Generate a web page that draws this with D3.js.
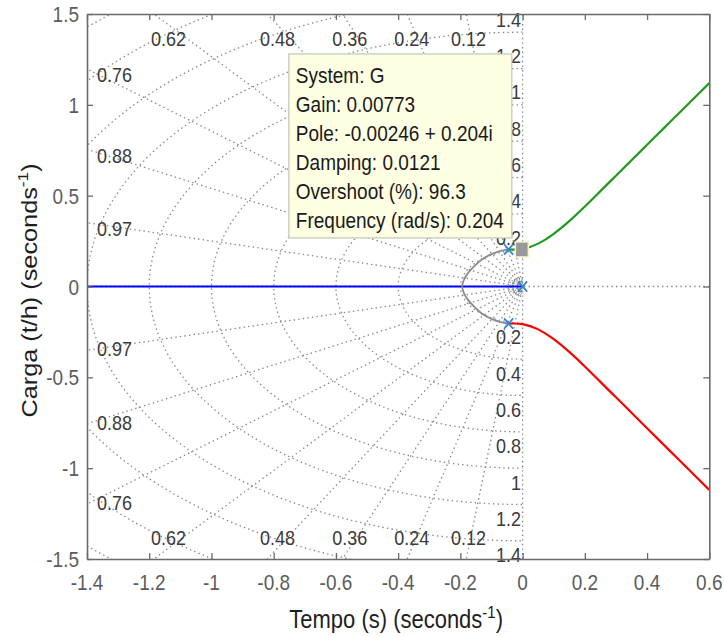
<!DOCTYPE html>
<html><head><meta charset="utf-8">
<script src="https://cdn.jsdelivr.net/npm/d3@7"></script>
<style>body{margin:0;background:#fff} text{font-family:"Liberation Sans",Arial,Helvetica,sans-serif}</style>
</head><body><svg id="c" width="724" height="637"></svg>
<script>
// ---------- data ----------
const xDomain = [-1.4, 0.6];
const yDomain = [-1.5, 1.5];
const xTicks = [-1.4, -1.2, -1, -0.8, -0.6, -0.4, -0.2, 0, 0.2, 0.4, 0.6];
const yTicks = [-1.5, -1, -0.5, 0, 0.5, 1, 1.5];
const dampingValues = [0.12, 0.24, 0.36, 0.48, 0.62, 0.76, 0.88, 0.97];
const wnValues = [0.2, 0.4, 0.6, 0.8, 1, 1.2, 1.4, 1.6, 1.8, 2.0];
const wnLabels = [0.2, 0.4, 0.6, 0.8, 1, 1.2, 1.4];
const wnSmall = [0.014, 0.022, 0.03, 0.038, 0.046];
const realLocusX = [-1.4, 0];
const branchX = [-0.045, 0, 0.05, 0.1, 0.15, 0.2, 0.25, 0.3, 0.35, 0.4, 0.45, 0.5, 0.55, 0.6];
const branchY = [0.204, 0.207, 0.236, 0.29, 0.36, 0.44, 0.525, 0.61, 0.695, 0.78, 0.865, 0.95, 1.035, 1.12];
const arcX = [-0.045, -0.07, -0.1, -0.13, -0.155, -0.178, -0.19, -0.195];
const arcY = [0.204, 0.196, 0.178, 0.15, 0.112, 0.068, 0.03, 0];
const polesX = [-0.045, -0.045, 0];
const polesY = [0.204, -0.204, 0];
const tipPole = [-0.00246, 0.204];
const tipLines = ["System: G", "Gain: 0.00773", "Pole: -0.00246 + 0.204i", "Damping: 0.0121", "Overshoot (%): 96.3", "Frequency (rad/s): 0.204"];
const xLabel = "Tempo (s) (seconds";
const yLabel = "Carga (t/h) (seconds";

// ---------- layout ----------
const SY = 1.15; // vertical text stretch
const svg = d3.select("#c");
const L = 87, R = 709.3, T = 14, B = 559;
const x = d3.scaleLinear().domain(xDomain).range([L, R]);
const y = d3.scaleLinear().domain(yDomain).range([B, T]);
const gridCol = "#858585";
const dash = "1.4 3.2";

svg.append("defs").append("clipPath").attr("id", "clip")
  .append("rect").attr("x", L).attr("y", T).attr("width", R - L).attr("height", B - T);

function txt(g, px, py, str, o) {
  o = o || {};
  const t = g.append("text")
    .attr("transform", `translate(${px},${py}) scale(1,${SY})` + (o.rot ? " rotate(-90)" : ""))
    .attr("font-size", o.size || 19)
    .attr("fill", o.fill || "#333")
    .attr("text-anchor", o.anchor || "start")
    .attr("dominant-baseline", o.base || "auto");
  t.text(str);
  return t;
}

const plot = svg.append("g").attr("clip-path", "url(#clip)");
const line = d3.line().x(d => x(d[0])).y(d => y(d[1]));
const smooth = d3.line().curve(d3.curveNatural).x(d => x(d[0])).y(d => y(d[1]));

// ---- s-grid: damping rays ----
dampingValues.forEach(z => {
  const s = Math.sqrt(1 - z * z);
  [1, -1].forEach(sg => {
    plot.append("path").attr("d", line([[0, 0], [-z * 4, sg * s * 4]]))
      .attr("stroke", gridCol).attr("stroke-width", 1.3).attr("fill", "none")
      .attr("stroke-dasharray", dash);
  });
});
plot.append("path").attr("d", line([[0, yDomain[0]], [0, yDomain[1]]]))
  .attr("stroke", gridCol).attr("stroke-width", 1.3).attr("stroke-dasharray", dash);
plot.append("path").attr("d", line([[xDomain[0], 0], [xDomain[1], 0]]))
  .attr("stroke", gridCol).attr("stroke-width", 1.3).attr("stroke-dasharray", dash);

// ---- s-grid: wn semicircles ----
function semi(wn) {
  return d3.range(0, 181, 2).map(a => {
    const t = (90 + a) * Math.PI / 180;
    return [wn * Math.cos(t), wn * Math.sin(t)];
  });
}
wnValues.concat(wnSmall).forEach(wn => {
  plot.append("path").attr("d", line(semi(wn)))
    .attr("stroke", gridCol).attr("stroke-width", 1.3).attr("fill", "none")
    .attr("stroke-dasharray", wn < 0.1 ? "1 1.6" : dash);
});

// ---- grid labels ----
const lab = svg.append("g");
const labCol = "#3a3a3a";
dampingValues.forEach(z => {
  const s = Math.sqrt(1 - z * z);
  const yl = -xDomain[0] * s / z;
  if (yl <= 1.44) {
    txt(lab, x(xDomain[0]) + 10, y(yl) + 6, String(z), {base: "central", fill: labCol, size: 18});
    txt(lab, x(xDomain[0]) + 10, y(-yl) - 1.5, String(z), {base: "central", fill: labCol, size: 18});
  } else {
    const xl = -1.44 * z / s;
    txt(lab, x(xl), y(1.44) + 14, String(z), {base: "central", anchor: "middle", fill: labCol, size: 18});
    txt(lab, x(xl), y(-1.44) - 11, String(z), {base: "central", anchor: "middle", fill: labCol, size: 18});
  }
});
wnLabels.forEach(wn => {
  txt(lab, x(0) - 1.5, y(wn) - 13, String(wn), {base: "central", anchor: "end", fill: labCol, size: 18});
  txt(lab, x(0) - 1.5, y(-wn) + 14, String(wn), {base: "central", anchor: "end", fill: labCol, size: 18});
});

// ---- loci ----
const loc = svg.append("g").attr("clip-path", "url(#clip)");
loc.append("path").attr("d", line(realLocusX.map(v => [v, 0])))
  .attr("stroke", "#0000ff").attr("stroke-width", 2).attr("fill", "none");
[1, -1].forEach(sg => {
  loc.append("path").attr("d", smooth(arcX.map((v, i) => [v, sg * arcY[i]])))
    .attr("stroke", "#8c8c8c").attr("stroke-width", 1.8).attr("fill", "none");
});
loc.append("path").attr("d", smooth(branchX.map((v, i) => [v, branchY[i]])))
  .attr("stroke", "#1f9a1f").attr("stroke-width", 2.2).attr("fill", "none");
loc.append("path").attr("d", smooth(branchX.map((v, i) => [v, -branchY[i]])))
  .attr("stroke", "#ff0000").attr("stroke-width", 2.2).attr("fill", "none");

// pole markers
polesX.forEach((px, i) => {
  const cx = x(px), cy = y(polesY[i]), a = 4.5, b = 5.2;
  loc.append("path").attr("d", `M${cx - a},${cy - b}L${cx + a},${cy + b}M${cx - a},${cy + b}L${cx + a},${cy - b}`)
    .attr("stroke", "#2f86d6").attr("stroke-width", 1.8).attr("fill", "none");
});

// ---- axes ----
const fmt = d => String(d);
const axCol = "#6a6a6a";
const axB = svg.append("g").attr("transform", `translate(0,${B})`)
  .call(d3.axisBottom(x).tickValues(xTicks).tickSizeInner(-6).tickSizeOuter(0).tickFormat(""));
const axT = svg.append("g").attr("transform", `translate(0,${T})`)
  .call(d3.axisTop(x).tickValues(xTicks).tickSizeInner(-6).tickSizeOuter(0).tickFormat(""));
const axL = svg.append("g").attr("transform", `translate(${L},0)`)
  .call(d3.axisLeft(y).tickValues(yTicks).tickSizeInner(-6).tickSizeOuter(0).tickFormat(""));
const axR = svg.append("g").attr("transform", `translate(${R},0)`)
  .call(d3.axisRight(y).tickValues(yTicks).tickSizeInner(-6).tickSizeOuter(0).tickFormat(""));
[axB, axT, axL, axR].forEach(a => {
  a.select(".domain").attr("stroke", axCol).attr("stroke-width", 1.6);
  a.selectAll(".tick line").attr("stroke", axCol).attr("stroke-width", 1.3);
});
const tl = svg.append("g");
xTicks.forEach(v => txt(tl, x(v), B + 23, fmt(v), {base: "central", anchor: "middle", fill: "#5c5c5c"}));
yTicks.forEach(v => txt(tl, L - 8, y(v), fmt(v), {base: "central", anchor: "end", fill: "#5c5c5c"}));

// axis titles
const xt = txt(svg, (L + R) / 2 - 2, 628, xLabel, {anchor: "middle", fill: "#1e1e1e", size: 22});
xt.append("tspan").attr("font-size", 15).attr("dy", -9).text("-1");
xt.append("tspan").attr("dy", 9).text(")");
const yt = txt(svg, 37, (T + B) / 2 + 4, yLabel, {anchor: "middle", fill: "#1e1e1e", size: 22, rot: true});
yt.append("tspan").attr("font-size", 15).attr("dy", -9).text("-1");
yt.append("tspan").attr("dy", 9).text(")");

// ---- datatip ----
const tx = x(tipPole[0]), ty = y(tipPole[1]);
svg.append("rect").attr("x", tx - 6.5).attr("y", ty - 7.5).attr("width", 13).attr("height", 15)
  .attr("fill", "#999").attr("stroke", "#f4f0c8").attr("stroke-width", 1.5);
const bw = 223, bh = 184, bx = tx - 10 - bw, by = ty - 11.5 - bh;
const tip = svg.append("g");
tip.append("rect").attr("x", bx).attr("y", by).attr("width", bw).attr("height", bh)
  .attr("fill", "#ffffe4").attr("stroke", "#c4c4b4").attr("stroke-width", 1.2);
tipLines.forEach((s, i) => txt(tip, bx + 7, by + 21 + i * 29, s, {base: "central", fill: "#1a1a1a", size: 19}));
</script></body></html>
